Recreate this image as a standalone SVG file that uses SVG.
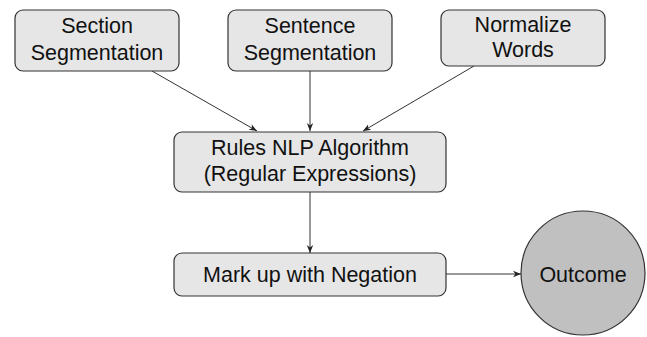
<svg xmlns="http://www.w3.org/2000/svg" width="647" height="337" viewBox="0 0 647 337">
<style>
.box{fill:#e6e6e6;stroke:#333;stroke-width:1.2}
.circ{fill:#c0c0c0;stroke:#333;stroke-width:1.2}
text{font-family:"Liberation Sans",Arial,sans-serif;font-size:21.5px;fill:#111;text-anchor:middle}
.edge{stroke:#333;stroke-width:1;fill:none;marker-end:url(#ah)}
</style>
<defs>
<marker id="ah" viewBox="0 0 10 10" refX="10" refY="5" markerWidth="8" markerHeight="8" markerUnits="userSpaceOnUse" orient="auto">
<path d="M0,1 L10,5 L0,9 L3,5 Z" fill="#222"/>
</marker>
</defs>
<rect width="647" height="337" fill="#fff"/>
<g id="connectors">
<line class="edge" x1="152" y1="71" x2="257" y2="131"/>
<line class="edge" x1="310" y1="71" x2="310" y2="131"/>
<line class="edge" x1="474" y1="66" x2="363" y2="131"/>
<line class="edge" x1="310" y1="192" x2="310" y2="253"/>
<line class="edge" x1="446" y1="274" x2="521" y2="274"/>
</g>
<g id="section">
<rect class="box" x="15" y="10" width="164" height="61" rx="8"/>
<text x="97" y="33">Section</text>
<text x="97" y="60">Segmentation</text>
</g>
<g id="sentence">
<rect class="box" x="228" y="10" width="164" height="61" rx="8"/>
<text x="310" y="33">Sentence</text>
<text x="310" y="60">Segmentation</text>
</g>
<g id="normalize">
<rect class="box" x="441" y="10" width="164" height="56" rx="8"/>
<text x="523" y="32">Normalize</text>
<text x="523" y="57">Words</text>
</g>
<g id="rules">
<rect class="box" x="174" y="132" width="272" height="60" rx="8"/>
<text x="310" y="155">Rules NLP Algorithm</text>
<text x="310" y="181">(Regular Expressions)</text>
</g>
<g id="markup">
<rect class="box" x="174" y="253" width="272" height="43" rx="8"/>
<text x="310" y="282">Mark up with Negation</text>
</g>
<g id="outcome">
<circle class="circ" cx="583" cy="273" r="62"/>
<text x="583" y="282">Outcome</text>
</g>
</svg>
